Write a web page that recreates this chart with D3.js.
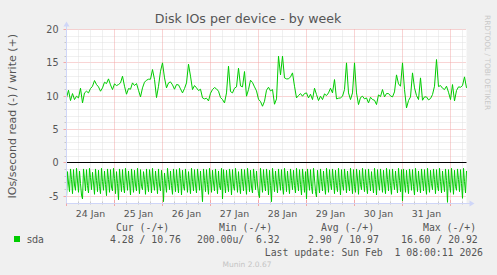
<!DOCTYPE html>
<html><head><meta charset="utf-8">
<script src="https://cdn.jsdelivr.net/npm/d3@7/dist/d3.min.js"></script>
<style>
body{margin:0;background:#f0f0f0;}
svg{display:block;font-family:"DejaVu Sans",sans-serif;}
.mono{font-family:"DejaVu Sans Mono",monospace;white-space:pre;}
</style>
</head><body>
<svg id="chart" width="497" height="275"></svg>
<script>
// ---------- data ----------
const title = "Disk IOs per device - by week";
const yAxisTitle = "IOs/second read (-) / write (+)";
const sideText = "RRDTOOL / TOBI OETIKER";
const startTime = Date.UTC(2026, 0, 24, 0, 0);
const endTime = Date.UTC(2026, 1, 1, 8, 0);
const writeStepMinutes = 60;
const readStepMinutes = 30;
const yTickValues = [-5, 0, 5, 10, 15, 20];
const dayLabels = ["24 Jan", "25 Jan", "26 Jan", "27 Jan", "28 Jan", "29 Jan", "30 Jan", "31 Jan"];
const seriesName = "sda";
const legendHeaders = ["Cur (-/+)", "Min (-/+)", "Avg (-/+)", "Max (-/+)"];
const legendValues = ["4.28 / 10.76", "200.00u/  6.32", "2.90 / 10.97", "16.60 / 20.92"];
const lastUpdate = "Last update: Sun Feb  1 08:00:11 2026";
const footer = "Munin 2.0.67";

// write IOs (+), hourly
const writeValues = [
  9.75,10.9,9.35,10.4,9.5,10.0,9.75,11.2,9.0,10.5,
  10.75,10.5,11.15,11.5,12.35,11.75,11.4,10.75,11.25,12.1,
  11.9,12.6,11.7,11.0,11.85,11.6,11.75,12.0,13.0,11.5,
  10.3,11.15,11.05,12.0,11.6,11.9,10.9,9.9,11.25,12.1,
  12.4,12.55,12.55,14.0,12.5,9.8,11.5,13.75,15.0,12.75,
  11.25,12.0,12.15,11.7,11.05,11.75,11.7,11.1,10.5,11.15,
  12.0,14.8,13.0,11.0,11.6,11.25,10.85,11.05,9.75,9.6,
  9.7,9.3,10.45,11.0,11.3,11.1,10.75,9.8,9.5,9.0,
  10.5,14.5,10.7,10.5,11.2,11.4,14.2,11.55,11.4,13.7,
  10.0,11.0,12.4,12.05,11.4,10.8,9.55,9.2,8.5,9.25,
  10.9,11.35,10.8,11.0,8.8,9.6,16.0,13.2,16.0,12.75,
  12.6,12.6,12.9,13.5,11.5,9.75,10.1,10.4,10.0,10.4,
  10.5,9.75,10.3,9.5,11.2,10.25,9.35,10.0,9.5,10.35,
  10.1,10.5,11.2,10.5,12.5,9.6,9.7,9.75,10.0,11.0,
  15.0,10.5,9.5,10.5,15.0,10.5,8.75,9.8,10.0,9.6,
  9.75,9.0,9.85,9.5,9.4,8.75,10.2,9.95,11.0,9.9,
  10.4,10.4,10.05,9.9,10.65,13.2,11.85,11.5,15.0,11.0,
  8.25,9.35,9.9,13.5,11.25,10.1,9.5,12.75,9.4,9.9,
  9.9,9.45,9.65,10.25,11.5,15.5,11.45,11.6,11.2,11.0,
  11.5,10.6,9.5,11.75,9.3,10.85,11.4,11.35,11.6,12.9,
  11.25
];
// read IOs (drawn as negative), every 30 minutes
const readValues = [
  -5.1,-1.3,-3.0,-4.3,-0.9,-2.5,-4.6,-1.0,-3.3,-4.1,
  -0.8,-2.7,-4.4,-1.2,-3.1,-4.8,-5.4,-0.9,-2.4,-4.2,
  -1.0,-3.4,-4.5,-0.8,-2.2,-4.0,-1.4,-3.0,-4.7,-0.9,
  -2.6,-4.3,-1.1,-3.5,-4.6,-0.8,-2.8,-4.1,-1.2,-3.2,
  -4.9,-0.9,-2.5,-4.4,-1.0,-3.6,-4.2,-0.8,-2.3,-4.6,
  -1.3,-3.1,-5.5,-0.9,-2.7,-4.3,-1.0,-3.4,-4.5,-0.8,
  -2.4,-4.1,-1.2,-3.0,-4.8,-0.9,-2.6,-4.4,-1.1,-3.3,
  -4.2,-0.8,-2.9,-4.6,-1.0,-3.5,-4.0,-1.3,-2.5,-4.7,
  -0.9,-3.2,-4.3,-1.0,-2.4,-4.5,-0.8,-3.0,-4.1,-1.2,
  -2.8,-4.6,-0.9,-3.3,-4.2,-1.1,-2.6,-5.8,-1.5,-3.1,
  -4.4,-0.8,-2.5,-4.0,-1.2,-3.4,-4.7,-0.9,-2.7,-4.3,
  -1.0,-3.1,-4.5,-0.8,-2.3,-4.8,-1.1,-3.5,-4.1,-0.9,
  -2.6,-4.4,-1.3,-3.0,-4.6,-0.8,-2.8,-4.2,-1.0,-3.3,
  -4.5,-0.9,-2.4,-4.1,-1.2,-3.6,-5.8,-0.9,-2.6,-4.3,
  -1.0,-3.2,-4.7,-0.8,-2.5,-4.4,-1.1,-3.0,-4.2,-0.9,
  -2.7,-4.6,-1.2,-3.4,-4.0,-0.8,-5.4,-1.0,-2.9,-4.5,
  -1.1,-3.1,-4.3,-0.9,-2.4,-4.8,-1.0,-3.5,-4.1,-0.8,
  -2.6,-4.4,-1.3,-3.2,-4.6,-0.9,-2.8,-4.2,-1.0,-3.0,
  -4.7,-0.8,-2.5,-4.3,-1.1,-3.6,-4.5,-0.9,-2.3,-4.0,
  -1.2,-3.3,-4.6,-5.2,-0.8,-2.7,-4.4,-1.0,-3.1,-4.2,
  -0.9,-2.6,-4.8,-1.1,-3.4,-5.8,-0.8,-2.5,-4.3,-1.2,
  -3.0,-4.5,-0.9,-2.8,-4.1,-1.0,-3.5,-4.7,-0.8,-2.4,
  -4.3,-1.2,-3.1,-4.6,-0.9,-2.6,-4.0,-1.1,-3.4,-4.5,
  -0.8,-2.9,-4.2,-1.0,-3.2,-4.8,-0.9,-2.5,-4.4,-1.3,
  -5.4,-0.9,-2.7,-4.1,-1.0,-3.5,-4.6,-0.8,-2.4,-4.3,
  -5.1,-1.1,-3.0,-4.5,-0.9,-2.8,-4.2,-1.2,-3.3,-4.7,
  -0.8,-2.5,-4.4,-1.0,-3.1,-4.0,-0.9,-2.6,-4.6,-1.1,
  -3.4,-4.3,-0.8,-2.9,-4.8,-1.0,-3.2,-4.1,-0.9,-2.5,
  -4.5,-1.2,-3.0,-4.2,-0.8,-2.7,-4.6,-1.0,-3.5,-4.4,
  -0.9,-2.4,-4.7,-1.1,-3.2,-4.0,-0.8,-2.8,-4.3,-1.0,
  -3.4,-4.6,-0.9,-2.6,-4.2,-1.3,-3.1,-4.5,-0.8,-2.5,
  -4.8,-1.0,-3.0,-4.1,-0.9,-2.7,-4.4,-1.1,-3.3,-4.6,
  -0.8,-2.5,-4.2,-1.0,-3.4,-4.7,-0.9,-2.8,-4.0,-1.2,
  -3.1,-4.5,-0.8,-2.6,-4.3,-1.0,-5.7,-0.9,-3.0,-4.4,
  -1.1,-3.2,-4.6,-0.9,-2.4,-4.1,-1.0,-3.5,-4.8,-0.8,
  -2.7,-4.3,-1.2,-3.0,-4.5,-0.9,-2.6,-4.2,-1.0,-3.3,
  -4.7,-0.8,-2.9,-4.4,-1.1,-3.1,-4.0,-0.9,-2.5,-4.6,
  -1.0,-3.4,-4.2,-0.8,-2.8,-4.5,-1.2,-3.0,-4.3,-0.9,
  -2.6,-5.9,-1.0,-3.2,-4.4,-0.8,-2.7,-4.7,-1.1,-3.5,
  -4.1,-0.9,-2.5,-4.3,-1.0,-3.1,-5.3,-0.8,-2.8,-4.5,
  -1.2
];

// ---------- drawing ----------
const MIN = 60 * 1000, HOUR = 60 * MIN;
const svg = d3.select("#chart");
const plotL = 66.5, plotR = 466.5, plotT = 29.5, plotB = 203;
const x = d3.scaleUtc().domain([startTime, endTime]).range([plotL, plotR]);
const y = d3.scaleLinear().domain([-6, 20]).range([plotB, plotT]);
const snap = v => Math.floor(v) + 0.5;
const green = "#00cc00";
const txt = "#555";
const minorCol = "#e0e0e0", majorCol = "#f2a8a8";

svg.append("rect").attr("width", 497).attr("height", 275).attr("fill", "#f0f0f0");
svg.append("rect").attr("x", plotL).attr("y", plotT).attr("width", plotR - plotL).attr("height", plotB - plotT).attr("fill", "#fff");

const grid = svg.append("g");
d3.range(-5, 21).forEach(v => {
  const major = v % 5 === 0;
  grid.append("line").attr("x1", plotL).attr("x2", plotR)
    .attr("y1", snap(y(v))).attr("y2", snap(y(v)))
    .attr("stroke", major ? majorCol : minorCol).attr("stroke-dasharray", "1,1");
  grid.append("line").attr("x1", plotL - (major ? 3 : 2)).attr("x2", plotL)
    .attr("y1", snap(y(v))).attr("y2", snap(y(v)))
    .attr("stroke", major ? majorCol : "#c8c8c8");
});
const vt = d3.utcHour.every(6).range(new Date(startTime), new Date(endTime + 1));
vt.forEach(t => {
  const major = t.getUTCHours() === 0;
  const xv = snap(x(t));
  if (xv > plotL + 1) {
    grid.append("line").attr("x1", xv).attr("x2", xv).attr("y1", plotT).attr("y2", plotB)
      .attr("stroke", major ? majorCol : minorCol).attr("stroke-dasharray", "1,1");
  }
  grid.append("line").attr("x1", xv).attr("x2", xv)
    .attr("y1", major ? plotB - 3 : plotB - 1.5).attr("y2", major ? plotB + 3 : plotB + 1.5)
    .attr("stroke", major ? majorCol : "#c8c8c8");
});

// series
const writeLine = d3.line().x((d, i) => x(startTime + i * writeStepMinutes * MIN)).y(d => y(d));
const readLine = d3.line().x((d, i) => x(startTime + i * readStepMinutes * MIN)).y(d => y(d));
svg.append("path").datum(writeValues).attr("d", writeLine)
  .attr("fill", "none").attr("stroke", green).attr("stroke-width", 1);
svg.append("path").datum(readValues).attr("d", readLine)
  .attr("fill", "none").attr("stroke", green).attr("stroke-width", 1);

// zero line
svg.append("line").attr("x1", plotL).attr("x2", plotR).attr("y1", snap(y(0))).attr("y2", snap(y(0)))
  .attr("stroke", "#000").attr("stroke-width", 1);

// axes
const axisCol = "#cfd6f8";
svg.append("line").attr("x1", plotL).attr("x2", plotR + 5).attr("y1", snap(plotB)).attr("y2", snap(plotB)).attr("stroke", axisCol);
svg.append("path").attr("d", `M${plotR + 3},${snap(plotB) - 3}L${plotR + 8},${snap(plotB)}L${plotR + 3},${snap(plotB) + 3}Z`).attr("fill", axisCol);
svg.append("line").attr("x1", plotL).attr("x2", plotL).attr("y1", plotB).attr("y2", plotT - 5).attr("stroke", axisCol);
svg.append("path").attr("d", `M${plotL - 3},${plotT - 3}L${plotL},${plotT - 8}L${plotL + 3},${plotT - 3}Z`).attr("fill", axisCol);

// y tick labels
yTickValues.forEach(v => {
  svg.append("text").attr("x", 58.5).attr("y", y(v) + 3.5).attr("text-anchor", "end")
    .attr("font-size", 9.6).attr("fill", txt).text(v);
});
// x labels at noon of each day
dayLabels.forEach((lab, i) => {
  const t = startTime + (i * 24 + 12) * HOUR;
  svg.append("text").attr("x", x(t)).attr("y", 217).attr("text-anchor", "middle")
    .attr("font-size", 9.4).attr("fill", txt).text(lab);
});

// titles
svg.append("text").attr("x", 248).attr("y", 23).attr("text-anchor", "middle")
  .attr("font-size", 12.6).attr("fill", txt).text(title);
svg.append("text").attr("transform", `translate(15.5,${(plotT + plotB) / 2}) rotate(-90)`)
  .attr("text-anchor", "middle").attr("font-size", 11).attr("fill", txt).text(yAxisTitle);
svg.append("text").attr("transform", "translate(485,15) rotate(90)")
  .attr("font-size", 7.4).attr("fill", "#c8c8c8").text(sideText);

// legend
svg.append("rect").attr("x", 14).attr("y", 236).attr("width", 6).attr("height", 6).attr("fill", green);
svg.append("text").attr("x", 27).attr("y", 243).attr("font-size", 9.6).attr("fill", txt).text(seriesName);
const headerX = [116, 219, 321, 423];
const valueX = [110, 197, 308, 401];
legendHeaders.forEach((h, i) => {
  svg.append("text").attr("class", "mono").attr("x", headerX[i]).attr("y", 230.5)
    .attr("font-size", 9.8).attr("fill", txt).text(h);
});
legendValues.forEach((v, i) => {
  svg.append("text").attr("class", "mono").attr("x", valueX[i]).attr("y", 243)
    .attr("font-size", 9.8).attr("fill", txt).text(v);
});
svg.append("text").attr("class", "mono").attr("x", 483).attr("y", 255.5).attr("text-anchor", "end")
  .attr("font-size", 9.8).attr("fill", txt).text(lastUpdate);
svg.append("text").attr("x", 247).attr("y", 267).attr("text-anchor", "middle")
  .attr("font-size", 7.5).attr("fill", "#c4c4c4").text(footer);
</script>
</body></html>
